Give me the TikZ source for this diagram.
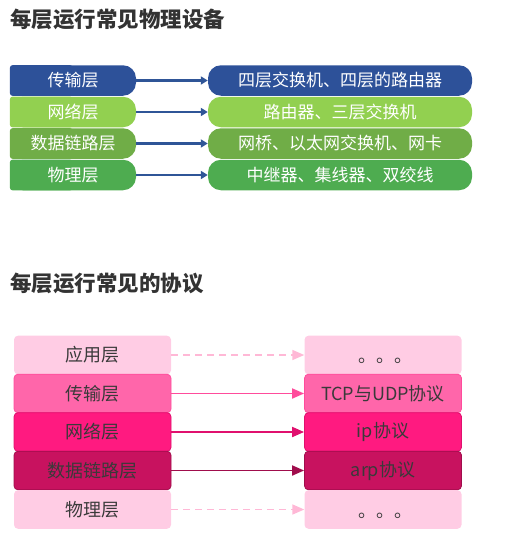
\documentclass[tikz,border=0pt]{standalone}
\usepackage{fontspec}
\setmainfont{Noto Sans CJK SC}
\usetikzlibrary{arrows.meta,backgrounds}
\definecolor{ttl}{HTML}{333333}
\definecolor{tblue}{HTML}{2D5199}
\definecolor{tlgreen}{HTML}{92D050}
\definecolor{tmgreen}{HTML}{70AD47}
\definecolor{tgreen}{HTML}{4EAC50}
\definecolor{tarrow}{HTML}{2F5597}
\definecolor{plight}{HTML}{FFCCE4}
\definecolor{pmid}{HTML}{FF66AA}
\definecolor{pmidb}{HTML}{FF4C9C}
\definecolor{pdeep}{HTML}{FF1A80}
\definecolor{pdeepb}{HTML}{E0106E}
\definecolor{pdark}{HTML}{C8125F}
\definecolor{pdarkb}{HTML}{A00D4C}
\definecolor{pdash}{HTML}{FFB8D6}
\definecolor{btext}{HTML}{3A3A3A}
\tikzset{
  titletext/.style={anchor=west,inner sep=0pt,text=ttl,font=\fontsize{21.5}{24}\selectfont\bfseries},
  lbox/.style={minimum width=126pt,minimum height=30.5pt,inner sep=0pt,fill=#1,rounded corners=13pt,text=white,font=\fontsize{17}{20}\selectfont},
  rbox/.style={minimum width=264pt,minimum height=30.5pt,inner sep=0pt,fill=#1,rounded corners=13pt,text=white,font=\fontsize{17}{20}\selectfont},
  tarr/.style={draw=tarrow,line width=2.2pt,-{Triangle[length=7pt,width=8pt]}},
  pbox/.style={minimum width=157pt,minimum height=38.6pt,inner sep=0pt,fill=#1,rounded corners=4pt,text=btext,font=\fontsize{18}{21}\selectfont},
  pboxb/.style 2 args={pbox=#1,draw=#2,line width=0.8pt},
  parr/.style={draw=#1,line width=1.8pt,-{Triangle[length=12pt,width=10pt]}},
  pdarr/.style={draw=pdash,line width=1.6pt,dashed,dash pattern=on 7pt off 5pt,-{Triangle[length=12pt,width=10pt]}},
}
\begin{document}
\begin{tikzpicture}[x=1pt,y=-1pt]
\useasboundingbox (0,0) rectangle (528,551);
% titles
\node[titletext] (title1) at (10,19) {每层运行常见物理设备};
\node[titletext] (title2) at (10,283) {每层运行常见的协议};
% top section
\node[rbox=tblue] (r1) at (340,80.5) {四层交换机、四层的路由器};
\node[rbox=tlgreen] (r2) at (340,112) {路由器、三层交换机};
\node[rbox=tmgreen] (r3) at (340,143.5) {网桥、以太网交换机、网卡};
\node[rbox=tgreen] (r4) at (340,175) {中继器、集线器、双绞线};
\node[lbox=tblue] (l1) at (73,80.5) {传输层};
\node[lbox=tlgreen] (l2) at (73,112) {网络层};
\node[lbox=tmgreen] (l3) at (73,143.5) {数据链路层};
\node[lbox=tgreen] (l4) at (73,175) {物理层};
\begin{scope}[on background layer]
\fill[tblue,rounded corners=3pt] (l1.north west) rectangle (l1.south);
\fill[tlgreen,rounded corners=3pt] (l2.north west) rectangle (l2.south);
\fill[tmgreen,rounded corners=3pt] (l3.north west) rectangle (l3.south);
\fill[tgreen,rounded corners=3pt] (l4.north west) rectangle (l4.south);
\end{scope}
\draw[tarr] (l1) -- (r1);
\draw[tarr] (l2) -- (r2);
\draw[tarr] (l3) -- (r3);
\draw[tarr] (l4) -- (r4);
% bottom section
\node[pbox=plight] (pa) at (92.5,355) {应用层};
\node[pboxb={pmid}{pmidb}] (pb) at (92.5,393.5) {传输层};
\node[pboxb={pdeep}{pdeepb}] (pc) at (92.5,432) {网络层};
\node[pboxb={pdark}{pdarkb}] (pd) at (92.5,470.5) {数据链路层};
\node[pbox=plight] (pe) at (92.5,509.5) {物理层};
\node[pbox=plight] (qa) at (383,355) {};
\node[pboxb={pmid}{pmidb}] (qb) at (383,393.5) {TCP与UDP协议};
\node[pboxb={pdeep}{pdeepb}] (qc) at (383,432) {ip协议};
\node[pboxb={pdark}{pdarkb}] (qd) at (383,470.5) {arp协议};
\node[pbox=plight] (qe) at (383,509.5) {};
\node[inner sep=0pt,text=btext,font=\fontsize{18}{21}\selectfont] (dotsa) at (385,361) {。。。};
\node[inner sep=0pt,text=btext,font=\fontsize{18}{21}\selectfont] (dotse) at (385,515.5) {。。。};
\draw[pdarr] (pa) -- (qa);
\draw[parr=pmidb] (pb) -- (qb);
\draw[parr=pdeepb] (pc) -- (qc);
\draw[parr=pdarkb] (pd) -- (qd);
\draw[pdarr] (pe) -- (qe);
\end{tikzpicture}
\end{document}
